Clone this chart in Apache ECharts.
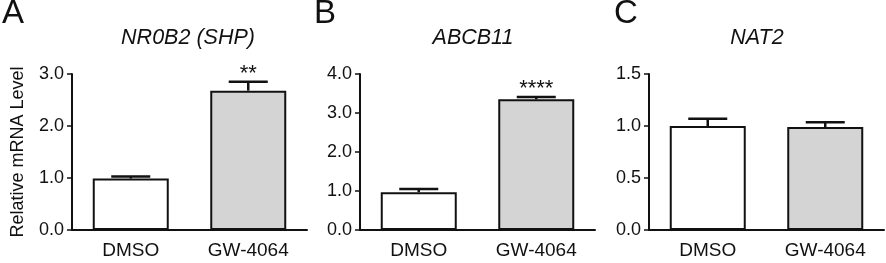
<!DOCTYPE html>
<html>
<head>
<meta charset="utf-8">
<script src="https://cdn.jsdelivr.net/npm/echarts@6/dist/echarts.min.js"></script>
<style>
  html, body { margin: 0; padding: 0; background: #fff; }
  #chart { width: 886px; height: 263px; }
</style>
</head>
<body>
<div id="chart"></div>
<script>
// data
var categories = ['DMSO', 'GW-4064'];
var panelLetters = ['A', 'B', 'C'];
var geneNames = ['NR0B2 (SHP)', 'ABCB11', 'NAT2'];

var shpMean = [0.99, 2.68];
var shpErr = [0.04, 0.17];
var shpSig = ['', '**'];

var abcb11Mean = [0.97, 3.35];
var abcb11Err = [0.08, 0.06];
var abcb11Sig = ['', '****'];

var nat2Mean = [1.0, 0.99];
var nat2Err = [0.07, 0.045];
var nat2Sig = ['', ''];

var yMax = [3, 4, 1.5];
var yStep = [1, 1, 0.5];

var barColors = ['#ffffff', '#d4d4d4'];

var FONT = '"Liberation Sans", Arial, Helvetica, sans-serif';
var INK = '#111';

var gridLeft = [72, 360, 649];
var titleX = [188, 473, 757];
var letterX = [2, 314, 614];

var means = [shpMean, abcb11Mean, nat2Mean];
var errs = [shpErr, abcb11Err, nat2Err];
var sigs = [shpSig, abcb11Sig, nat2Sig];

var grids = [], xAxes = [], yAxes = [], series = [], titles = [];

for (var p = 0; p < 3; p++) {
    grids.push({ left: gridLeft[p], top: 74, width: 235, height: 156 });

    xAxes.push({
        type: 'category',
        gridIndex: p,
        data: categories,
        axisLine: { lineStyle: { color: INK, width: 2 } },
        axisTick: { alignWithLabel: true, length: 5, lineStyle: { color: INK, width: 1.5 } },
        axisLabel: { color: INK, fontSize: 19, fontFamily: FONT, margin: 11 }
    });

    yAxes.push({
        type: 'value',
        gridIndex: p,
        min: 0,
        max: yMax[p],
        interval: yStep[p],
        splitLine: { show: false },
        axisLine: { show: true, lineStyle: { color: INK, width: 2 } },
        axisTick: { show: true, length: 5, lineStyle: { color: INK, width: 1.5 } },
        axisLabel: {
            color: INK, fontSize: 18, fontFamily: FONT, margin: 8,
            formatter: function (v) { return v.toFixed(1); }
        },
        name: p === 0 ? 'Relative mRNA Level' : '',
        nameLocation: 'middle',
        nameGap: 45,
        nameTextStyle: { color: INK, fontSize: 18, fontFamily: FONT }
    });

    series.push({
        type: 'bar',
        xAxisIndex: p,
        yAxisIndex: p,
        barWidth: 76,
        data: means[p].map(function (v, i) {
            return { value: v, itemStyle: { color: barColors[i] } };
        }),
        itemStyle: { borderColor: INK, borderWidth: 2 },
        z: 2
    });

    (function (p) {
        series.push({
            type: 'custom',
            xAxisIndex: p,
            yAxisIndex: p,
            z: 3,
            data: means[p].map(function (v, i) { return [i, v, errs[p][i]]; }),
            renderItem: function (params, api) {
                var i = api.value(0), m = api.value(1), e = api.value(2);
                var base = api.coord([i, m]);
                var tip = api.coord([i, m + e]);
                var half = api.size([1, 0])[0] * 0.166;
                var kids = [
                    { type: 'line', shape: { x1: base[0], y1: base[1], x2: tip[0], y2: tip[1] },
                      style: { stroke: INK, lineWidth: 2.5 } },
                    { type: 'line', shape: { x1: tip[0] - half, y1: tip[1], x2: tip[0] + half, y2: tip[1] },
                      style: { stroke: INK, lineWidth: 2.5 } }
                ];
                var s = sigs[p][params.dataIndex];
                if (s) {
                    kids.push({ type: 'text', x: tip[0], y: tip[1] - 8,
                        style: { text: s, fill: INK, font: '22px ' + FONT, align: 'center', verticalAlign: 'middle' } });
                }
                return { type: 'group', children: kids };
            }
        });
    })(p);

    titles.push({
        text: geneNames[p], left: titleX[p], top: 27, padding: 0, textAlign: 'center',
        textStyle: { color: INK, fontSize: 21.5, fontStyle: 'italic', fontWeight: 'normal', fontFamily: FONT }
    });
    titles.push({
        text: panelLetters[p], left: letterX[p], top: -3, padding: 0,
        textStyle: { color: INK, fontSize: 33, fontWeight: 'normal', fontFamily: FONT }
    });
}

var chart = echarts.init(document.getElementById('chart'));
chart.setOption({
    animation: false,
    backgroundColor: '#fff',
    title: titles,
    grid: grids,
    xAxis: xAxes,
    yAxis: yAxes,
    series: series
});
</script>
</body>
</html>
